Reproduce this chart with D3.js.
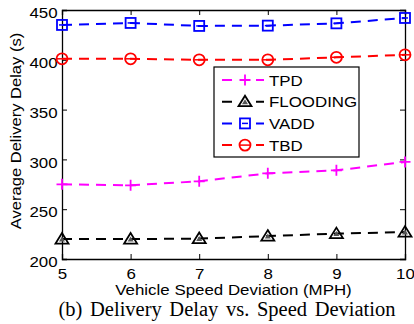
<!DOCTYPE html>
<html>
<head>
<meta charset="utf-8">
<script src="https://cdn.jsdelivr.net/npm/d3@7"></script>
<style>
  body { margin: 0; background: #fff; }
  text { font-family: "Liberation Sans", Arial, sans-serif; }
</style>
</head>
<body>
<svg id="chart" width="414" height="324"></svg>
<script>
'use strict';

var speeds = [5, 6, 7, 8, 9, 10];
var tpd = [275, 274, 278, 286, 289, 297.5];
var flooding = [220, 220, 220.5, 223, 225.5, 227];
var vadd = [435, 437, 434, 434.3, 436.6, 442];
var tbd = [401, 401, 400, 400, 402.5, 405];
var yTicks = [200, 250, 300, 350, 400, 450];

var series = [
  { name: 'TPD', values: tpd, color: '#ff00ff', marker: 'plus' },
  { name: 'FLOODING', values: flooding, color: '#000000', marker: 'triangle' },
  { name: 'VADD', values: vadd, color: '#0000ff', marker: 'square' },
  { name: 'TBD', values: tbd, color: '#ff0000', marker: 'circle' }
];

var svg = d3.select('#chart');
var m = { left: 62, top: 10, right: 405, bottom: 259 };
var fs = 15.5, stretch = 1.09; // the source figure's text is slightly wide

var x = d3.scaleLinear().domain([5, 10]).range([m.left, m.right]);
var y = d3.scaleLinear().domain([200, 450]).range([m.bottom, m.top]);

// axes (ticks pointing inward, on all four sides)
var g = svg.append('g');
g.append('g').attr('transform', 'translate(0,' + m.bottom + ')')
  .call(d3.axisBottom(x).tickValues(speeds).tickSize(-5).tickPadding(9).tickFormat(d3.format('d')));
g.append('g').attr('transform', 'translate(0,' + m.top + ')')
  .call(d3.axisTop(x).tickValues(speeds).tickSize(-5).tickFormat(''));
g.append('g').attr('class', 'yleft').attr('transform', 'translate(' + m.left + ',0)')
  .call(d3.axisLeft(y).tickValues(yTicks).tickSize(-5).tickPadding(4));
g.append('g').attr('transform', 'translate(' + m.right + ',0)')
  .call(d3.axisRight(y).tickValues(yTicks).tickSize(-5).tickFormat(''));
g.selectAll('.domain').attr('stroke', '#000').attr('stroke-width', 1.3);
g.selectAll('.tick line').attr('stroke', '#000');
g.selectAll('.tick text').attr('font-size', fs).attr('fill', '#000')
  .attr('transform', 'scale(' + stretch + ',1)')
  .style('font-family', '"Liberation Sans", Arial, sans-serif');
g.select('.yleft').selectAll('.tick text').attr('dy', '0.5em');

var line = d3.line().x(function(d, i) { return x(speeds[i]); }).y(function(d) { return y(d); });

function drawMarker(sel, type, color) {
  if (type === 'plus') {
    sel.append('path').attr('d', 'M-5.5,0H5.5M0,-5.5V5.5').attr('stroke', color).attr('stroke-width', 1.8).attr('fill', 'none');
  } else if (type === 'triangle') {
    sel.append('path').attr('d', 'M0,-6L6.5,4.5H-6.5Z').attr('stroke', color).attr('stroke-width', 1.8).attr('fill', 'none');
    sel.append('path').attr('d', 'M0,-2.5L3,2.5H-3Z').attr('fill', '#555');
  } else if (type === 'square') {
    sel.append('rect').attr('x', -5).attr('y', -5).attr('width', 10).attr('height', 10)
      .attr('stroke', color).attr('stroke-width', 1.8).attr('fill', 'none');
    sel.append('path').attr('d', 'M-3,0H3').attr('stroke', color).attr('stroke-width', 1.5);
  } else {
    sel.append('circle').attr('r', 5.5).attr('stroke', color).attr('stroke-width', 1.8).attr('fill', 'none');
    sel.append('path').attr('d', 'M-5,0H5').attr('stroke', color).attr('stroke-width', 1.5);
  }
}

series.forEach(function(s) {
  svg.append('path').datum(s.values)
    .attr('d', line)
    .attr('fill', 'none')
    .attr('stroke', s.color)
    .attr('stroke-width', 2)
    .attr('stroke-dasharray', '10,7');
  svg.selectAll(null).data(s.values).enter().append('g')
    .attr('transform', function(d, i) { return 'translate(' + x(speeds[i]) + ',' + y(d) + ')'; })
    .each(function() { drawMarker(d3.select(this), s.marker, s.color); });
});

// legend
var lg = svg.append('g').attr('transform', 'translate(214,67)');
lg.append('rect').attr('width', 145).attr('height', 90).attr('fill', '#fff').attr('stroke', '#000').attr('stroke-width', 1.2);
series.forEach(function(s, i) {
  var row = lg.append('g').attr('transform', 'translate(0,' + (13 + i * 21.7) + ')');
  row.append('path').attr('d', 'M8,0H18M42,0H50').attr('stroke', s.color).attr('stroke-width', 2);
  var mk = row.append('g').attr('transform', 'translate(31,0)');
  drawMarker(mk, s.marker, s.color);
  row.append('text').attr('transform', 'translate(55,5.5) scale(' + stretch + ',1)')
    .attr('font-size', fs).text(s.name);
});

// labels
svg.append('text').attr('transform', 'translate(' + ((m.left + m.right) / 2) + ',295) scale(' + stretch + ',1)')
  .attr('text-anchor', 'middle').attr('font-size', fs).text('Vehicle Speed Deviation (MPH)');
svg.append('text').attr('transform', 'translate(21,131) rotate(-90) scale(' + stretch * 0.98 + ',1)')
  .attr('text-anchor', 'middle').attr('font-size', fs).text('Average Delivery Delay (s)');
svg.append('text').attr('x', 227).attr('y', 316).attr('text-anchor', 'middle')
  .attr('font-size', 20.5).style('font-family', '"Liberation Serif", "Times New Roman", serif')
  .style('word-spacing', '2.5px')
  .text('(b) Delivery Delay vs. Speed Deviation');
</script>
</body>
</html>
